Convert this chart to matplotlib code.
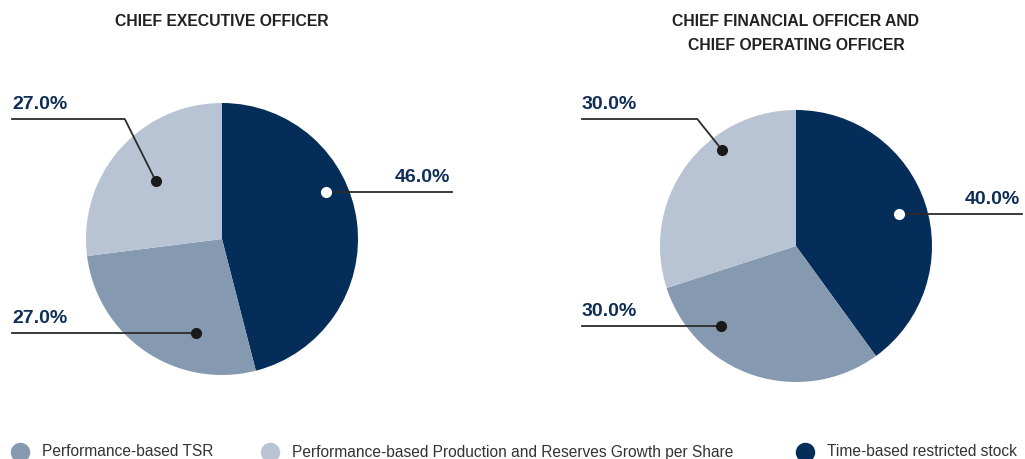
import matplotlib
matplotlib.use("Agg")
import matplotlib.pyplot as plt
import numpy as np

plt.rcParams['font.family'] = ['Liberation Sans', 'DejaVu Sans']

# data
categories = ['Time-based restricted stock', 'Performance-based TSR',
              'Performance-based Production and Reserves Growth per Share']
ceo_values = [46.0, 27.0, 27.0]
cfo_values = [40.0, 30.0, 30.0]
titles = ['CHIEF EXECUTIVE OFFICER', 'CHIEF FINANCIAL OFFICER AND\nCHIEF OPERATING OFFICER']
legend_order = [1, 2, 0]

colors = ['#042d5a', '#8599b0', '#b8c4d3']
label_color = '#0e2e57'
line_color = '#2b2b2b'

W, H = 1025, 459
fig = plt.figure(figsize=(W / 100, H / 100), dpi=100)
ax = fig.add_axes([0, 0, 1, 1])

R = 136
centers = [(222, H - 239), (796, H - 246)]

# anchor dots (angle deg, fraction of radius) per wedge: dark, medium, light
dot_spec = {
    0: [(24.3, 0.84), (-105.3, 0.72), (138.7, 0.65)],
    1: [(17.4, 0.79), (-133.2, 0.81), (127.6, 0.89)],
}
elbow_slope = [0.5, 0.8]
label_x_left = [12, 582]
label_x_right = [452, 1022]


def wedge_point(c, ang, frac):
    a = np.deg2rad(ang)
    return c[0] + R * frac * np.cos(a), c[1] + R * frac * np.sin(a)


for i, vals in enumerate([ceo_values, cfo_values]):
    c = centers[i]
    ax.pie(vals, colors=colors, startangle=90, counterclock=False,
           center=c, radius=R, wedgeprops=dict(linewidth=0))
    specs = dot_spec[i]
    # dark wedge: white dot, line to the right
    x0, y0 = wedge_point(c, *specs[0])
    ax.plot([x0, label_x_right[i]], [y0, y0], color=line_color, lw=1.3, zorder=3)
    ax.plot(x0, y0, 'o', color='white', ms=7, zorder=4)
    ax.text(label_x_right[i] - 2, y0 + 6, f'{vals[0]:.1f}%', ha='right', va='bottom',
            fontsize=14, fontweight='bold', color=label_color)
    # medium wedge: straight line to the left
    x1, y1 = wedge_point(c, *specs[1])
    ax.plot([x1, label_x_left[i]], [y1, y1], color=line_color, lw=1.3, zorder=3)
    ax.plot(x1, y1, 'o', color='#1a1a1a', ms=7, zorder=4)
    ax.text(label_x_left[i], y1 + 6, f'{vals[1]:.1f}%', ha='left', va='bottom',
            fontsize=14, fontweight='bold', color=label_color)
    # light wedge: elbow line up-left
    x2, y2 = wedge_point(c, *specs[2])
    ey = H - 119
    ex = x2 - (ey - y2) * elbow_slope[i]
    ax.plot([x2, ex, label_x_left[i]], [y2, ey, ey], color=line_color, lw=1.3, zorder=3)
    ax.plot(x2, y2, 'o', color='#1a1a1a', ms=7, zorder=4)
    ax.text(label_x_left[i], ey + 6, f'{vals[2]:.1f}%', ha='left', va='bottom',
            fontsize=14, fontweight='bold', color=label_color)

# titles
ax.text(222, H - 22, titles[0], ha='center', va='center', fontsize=11.3,
        fontweight='bold', color='#222222')
ax.text(796, H - 34, titles[1], ha='center', va='center', fontsize=11.3,
        fontweight='bold', color='#222222', linespacing=1.75)

# legend
leg_x = [20, 270, 805]
for x, k in zip(leg_x, legend_order):
    ax.plot(x, H - 452, 'o', color=colors[k], ms=13)
    ax.text(x + 22, H - 452, categories[k], ha='left', va='center',
            fontsize=11.2, color='#333333')

ax.set_xlim(0, W)
ax.set_ylim(0, H)
ax.set_aspect('auto')
ax.axis('off')

fig.savefig('out.png', dpi=100)
